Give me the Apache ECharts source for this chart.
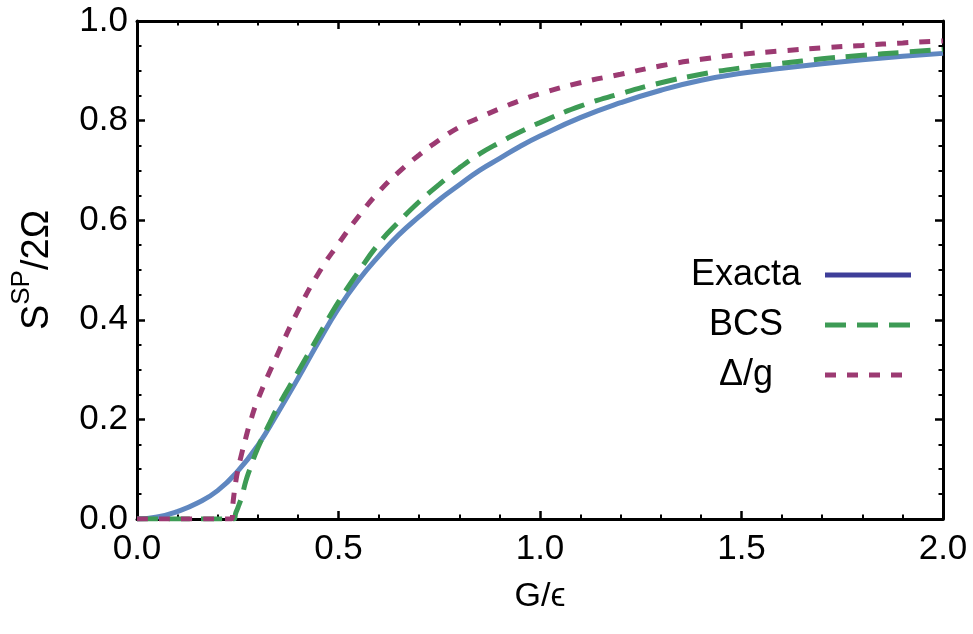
<!DOCTYPE html>
<html>
<head>
<meta charset="utf-8">
<script src="https://cdn.jsdelivr.net/npm/echarts@6/dist/echarts.min.js"></script>
<style>
  html, body { margin: 0; padding: 0; background: #fff; }
  #chart { width: 973px; height: 634px; }
</style>
</head>
<body>
<div id="chart"></div>
<script>
// Coupling strength G/ε and the normalised pair quantity S^SP/2Ω for each method
const exactG = [0, 0.05, 0.1, 0.15, 0.2, 0.25, 0.3, 0.35, 0.4, 0.45, 0.5, 0.55, 0.6, 0.65, 0.7, 0.75, 0.8, 0.85, 0.9, 0.95, 1.0, 1.1, 1.2, 1.3, 1.4, 1.5, 1.6, 1.7, 1.8, 1.9, 2.0];
const exactS = [0, 0.004, 0.015, 0.032, 0.057, 0.096, 0.148, 0.214, 0.283, 0.355, 0.423, 0.480, 0.528, 0.571, 0.607, 0.641, 0.671, 0.700, 0.724, 0.748, 0.769, 0.806, 0.836, 0.861, 0.881, 0.895, 0.905, 0.914, 0.922, 0.929, 0.935];

const bcsG = [0, 0.24, 0.245, 0.25, 0.26, 0.27, 0.28, 0.3, 0.33, 0.35, 0.4, 0.45, 0.5, 0.55, 0.6, 0.65, 0.7, 0.75, 0.8, 0.85, 0.9, 0.95, 1.0, 1.1, 1.2, 1.3, 1.4, 1.5, 1.6, 1.7, 1.8, 1.9, 2.0];
const bcsS = [0, 0, 0.012, 0.022, 0.045, 0.076, 0.100, 0.143, 0.194, 0.226, 0.296, 0.367, 0.436, 0.497, 0.553, 0.597, 0.637, 0.672, 0.705, 0.733, 0.756, 0.777, 0.796, 0.829, 0.854, 0.876, 0.893, 0.906, 0.915, 0.924, 0.931, 0.937, 0.943];

const gapG = [0, 0.235, 0.238, 0.24, 0.245, 0.25, 0.26, 0.27, 0.28, 0.3, 0.35, 0.4, 0.45, 0.5, 0.55, 0.6, 0.65, 0.7, 0.75, 0.8, 0.85, 0.9, 0.95, 1.0, 1.1, 1.2, 1.3, 1.4, 1.5, 1.6, 1.7, 1.8, 1.9, 2.0];
const gapS = [0, 0, 0.03, 0.045, 0.075, 0.097, 0.132, 0.163, 0.192, 0.240, 0.333, 0.419, 0.493, 0.553, 0.608, 0.657, 0.697, 0.731, 0.761, 0.787, 0.806, 0.824, 0.840, 0.854, 0.876, 0.893, 0.910, 0.923, 0.933, 0.940, 0.946, 0.951, 0.956, 0.960];

const seriesNames = ['Exacta', 'BCS', 'Δ/g'];
const xTicks = { min: 0, max: 2, interval: 0.5 };
const yTicks = { min: 0, max: 1, interval: 0.2 };

const pairs = (xs, ys) => xs.map((x, i) => [x, ys[i]]);

const FONT = 'Liberation Sans';
const COLORS = { exact: '#5f87c0', exactKey: '#3e3e99', bcs: '#3d9b55', gap: '#9c3a72' };
const DASH = { bcs: [21, 11], gap: [11, 11] };

const frame = { show: true, onZero: false, lineStyle: { color: '#000', width: 3 } };
const majorTick = { show: true, inside: true, length: 8, lineStyle: { color: '#000', width: 2.5 } };
const minorTick = (n) => ({ show: true, splitNumber: n, length: 4.5, lineStyle: { color: '#000', width: 2 } });

const chart = echarts.init(document.getElementById('chart'), null, { renderer: 'canvas' });

chart.setOption({
  animation: false,
  backgroundColor: '#fff',
  grid: { left: 137, right: 30, top: 21, bottom: 115, containLabel: false, outerBoundsMode: 'none' },
  xAxis: [
    {
      type: 'value', position: 'bottom', ...xTicks,
      axisLine: frame, axisTick: majorTick, minorTick: minorTick(5),
      splitLine: { show: false },
      axisLabel: { fontFamily: FONT, fontSize: 35, color: '#000', margin: 13,
        formatter: v => v.toFixed(1) },
      name: 'G/ϵ', nameLocation: 'middle', nameGap: 61,
      nameTextStyle: { fontFamily: FONT, fontSize: 34, color: '#000' }
    },
    {
      type: 'value', position: 'top', ...xTicks,
      axisLine: frame, axisTick: majorTick, minorTick: minorTick(5),
      splitLine: { show: false }, axisLabel: { show: false }
    }
  ],
  yAxis: [
    {
      type: 'value', position: 'left', ...yTicks,
      axisLine: frame, axisTick: majorTick, minorTick: minorTick(4),
      splitLine: { show: false },
      axisLabel: { fontFamily: FONT, fontSize: 35, color: '#000', margin: 9,
        formatter: v => v.toFixed(1) },
      name: '{n|S}{sup|SP}{n|/2Ω}', nameLocation: 'middle', nameRotate: 90, nameGap: 80,
      nameTextStyle: {
        fontFamily: FONT, color: '#000',
        rich: {
          n: { fontFamily: FONT, fontSize: 38, color: '#000', lineHeight: 48, verticalAlign: 'bottom' },
          sup: { fontFamily: FONT, fontSize: 26, color: '#000', lineHeight: 26, verticalAlign: 'top' }
        }
      }
    },
    {
      type: 'value', position: 'right', ...yTicks,
      axisLine: frame, axisTick: majorTick, minorTick: minorTick(4),
      splitLine: { show: false }, axisLabel: { show: false }
    }
  ],
  legend: {
    orient: 'vertical', align: 'right', left: 667, top: 245,
    itemWidth: 86, itemHeight: 14, itemGap: 0,
    itemStyle: { opacity: 0 },
    formatter: '{c|{name}}',
    textStyle: {
      rich: { c: { fontFamily: FONT, fontSize: 36, color: '#000', width: 148, align: 'center', height: 50, lineHeight: 50 } }
    },
    data: [
      { name: seriesNames[0], lineStyle: { color: COLORS.exactKey, width: 5, type: 'solid' } },
      { name: seriesNames[1], lineStyle: { color: COLORS.bcs, width: 5, type: DASH.bcs } },
      { name: seriesNames[2], lineStyle: { color: COLORS.gap, width: 5, type: DASH.gap } }
    ]
  },
  series: [
    {
      name: seriesNames[0], type: 'line', xAxisIndex: 0, yAxisIndex: 0,
      data: pairs(exactG, exactS), showSymbol: false, symbol: 'none',
      smooth: 0.5,
      lineStyle: { color: COLORS.exact, width: 5 }, itemStyle: { color: COLORS.exact }
    },
    {
      name: seriesNames[1], type: 'line', xAxisIndex: 0, yAxisIndex: 0,
      data: pairs(bcsG, bcsS), showSymbol: false, symbol: 'none',
      smooth: 0.5,
      lineStyle: { color: COLORS.bcs, width: 5, type: DASH.bcs }, itemStyle: { color: COLORS.bcs }
    },
    {
      name: seriesNames[2], type: 'line', xAxisIndex: 0, yAxisIndex: 0,
      data: pairs(gapG, gapS), showSymbol: false, symbol: 'none',
      smooth: 0.5,
      lineStyle: { color: COLORS.gap, width: 5, type: DASH.gap }, itemStyle: { color: COLORS.gap }
    }
  ]
});
</script>
</body>
</html>
